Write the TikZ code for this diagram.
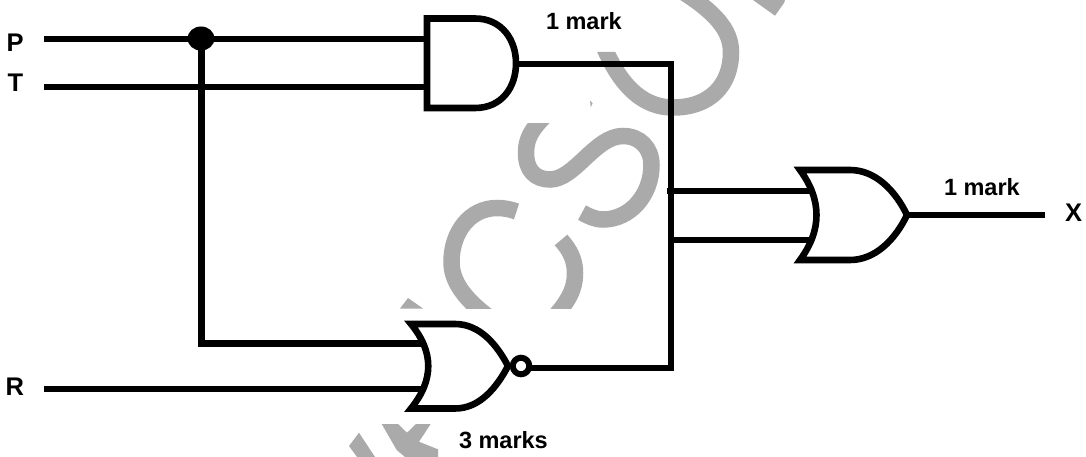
\documentclass[tikz,border=0pt]{standalone}
\usepackage{fontspec}
\setmainfont{Liberation Sans}
\definecolor{wmark}{RGB}{170,170,170}
\tikzset{
  wire/.style={draw=black,line width=6.4pt},
  gate/.style={draw=black,line width=6.6pt,miter limit=10},
  wm/.style={draw=wmark,line width=16.5pt},
  wmfill/.style={fill=wmark,draw=none},
  lab/.style={anchor=base west,inner sep=0pt,outer sep=0pt,font=\bfseries\fontsize{23.5}{28}\selectfont},
  letter/.style={anchor=base west,inner sep=0pt,outer sep=0pt,font=\bfseries\fontsize{25.5}{28}\selectfont}
}
\begin{document}
\begin{tikzpicture}[x=1pt,y=-1pt]
\useasboundingbox (0,0) rectangle (1086,457);
% watermark fragments
\begin{scope}
  \clip (590,52) -- (665,52) -- (665,-20) -- (800,-20) -- (800,130) -- (590,130) -- cycle;
  \draw[wm] (598,32) .. controls (606,52) and (625,107.5) .. (673,107.5)
     .. controls (710,107.5) and (731,85) .. (731,52)
     .. controls (731,30) and (715,12) .. (680,-10);
\end{scope}
\begin{scope}
  \clip (500,124) rectangle (680,240);
  \draw[wm] (556,105) .. controls (535,125) and (526,135) .. (526,153)
     .. controls (526,170) and (535,179.5) .. (550,179.5)
     .. controls (575,179.5) and (595,136) .. (623,136)
     .. controls (640,136) and (651.5,148) .. (651.5,165)
     .. controls (651.5,195) and (630,219.5) .. (603,219.5)
     .. controls (595,219.5) and (588,216) .. (582,212.6);
\end{scope}
\begin{scope}
  \clip (430,190) rectangle (540,308.5);
  \draw[wm] (516.5,211.5) .. controls (510,209) and (503,208) .. (497,208)
     .. controls (470,208) and (451.5,232) .. (451.5,262)
     .. controls (451.5,285) and (470,305) .. (500,325);
\end{scope}
\begin{scope}
  \clip (540,225) rectangle (600,308.5);
  \draw[wm] (561,240) .. controls (570,250) and (575,260) .. (575,273)
     .. controls (575,290) and (568,302) .. (550,322);
\end{scope}
\fill[wmfill] (400,308.5) -- (408,298) -- (423,308.5) -- cycle;
\fill[wmfill] (753,0) -- (785,0) -- (784,3) -- (775,15.7) -- cycle;
\fill[wmfill] (590,100.7) -- (592.7,103.3) -- (590.7,107.3) -- cycle;
\fill[wmfill] (349,446) -- (359,432.7) -- (375,457) -- (357,457) -- cycle;
\fill[wmfill] (381.7,424) -- (398,424) -- (407,432.7) -- (416,424) -- (430.7,424)
   -- (419,441.7) -- (438,449.3) -- (438,457) -- (405,457) -- (396.7,450) -- cycle;
% coordinates
\coordinate (pin) at (44,39);
\coordinate (tin) at (44,87);
\coordinate (rin) at (44,389);
\coordinate (dot) at (201,38.5);
\coordinate (and1) at (427,39);
\coordinate (and2) at (427,87);
\coordinate (andout) at (518,64);
\coordinate (corner) at (671,64);
\coordinate (low) at (201,343);
\coordinate (nor1) at (424,343);
\coordinate (nor2) at (424,389);
\coordinate (norout) at (529,367.7);
\coordinate (bcorner) at (671,367.7);
\coordinate (j1) at (666.7,191);
\coordinate (j2) at (671,240);
\coordinate (or1) at (813,191);
\coordinate (or2) at (813,240);
\coordinate (orout) at (908,215);
\coordinate (xend) at (1045,215);
% wires
\draw[wire] (pin) -- (and1);
\draw[wire] (tin) -- (and2);
\draw[wire] (rin) -- (nor2);
\draw[wire,line width=7pt] (dot) -- (low) -- (nor1);
\draw[wire,line width=5.8pt] (andout) -- (corner) -- (bcorner) -- (norout);
\draw[wire] (j1) -- (or1);
\draw[wire] (j2) -- (or2);
\draw[wire] (orout) -- (xend);
\fill[black] (dot) ellipse [x radius=13.5pt,y radius=12pt];
% AND gate
\draw[gate] (427,18.5) -- (475,18.5) .. controls (502,18.5) and (516,40) .. (516,63.25)
   .. controls (516,87) and (502,108) .. (475,108) -- (427,108) -- cycle;
% OR gate
\draw[gate] (800,170) -- (850,170) .. controls (875,170) and (895,190) .. (907,215)
   .. controls (895,240) and (875,260) .. (850,260) -- (800,260)
   .. controls (822,230) and (822,200) .. (800,170) -- cycle;
% NOR gate
\draw[gate] (411,324) -- (455,324) .. controls (480,324) and (497,345) .. (508,366)
   .. controls (497,387) and (480,408.5) .. (455,408.5) -- (411,408.5)
   .. controls (434,380) and (434,352) .. (411,324) -- cycle;
\node[circle,draw=black,line width=6pt,minimum size=16.5pt,inner sep=0pt] (bub) at (521,366) {};
% labels
\node[letter] (lp) at (6.5,52) {P};
\node[letter] (lt) at (7.5,92) {T};
\node[letter] (lr) at (5.5,395) {R};
\node[letter] (lx) at (1065,222) {X};
\node[lab] (m1) at (546,29.3) {1 mark};
\node[lab] (m2) at (944,195) {1 mark};
\node[lab] (m3) at (459,448) {3 marks};
\end{tikzpicture}
\end{document}
